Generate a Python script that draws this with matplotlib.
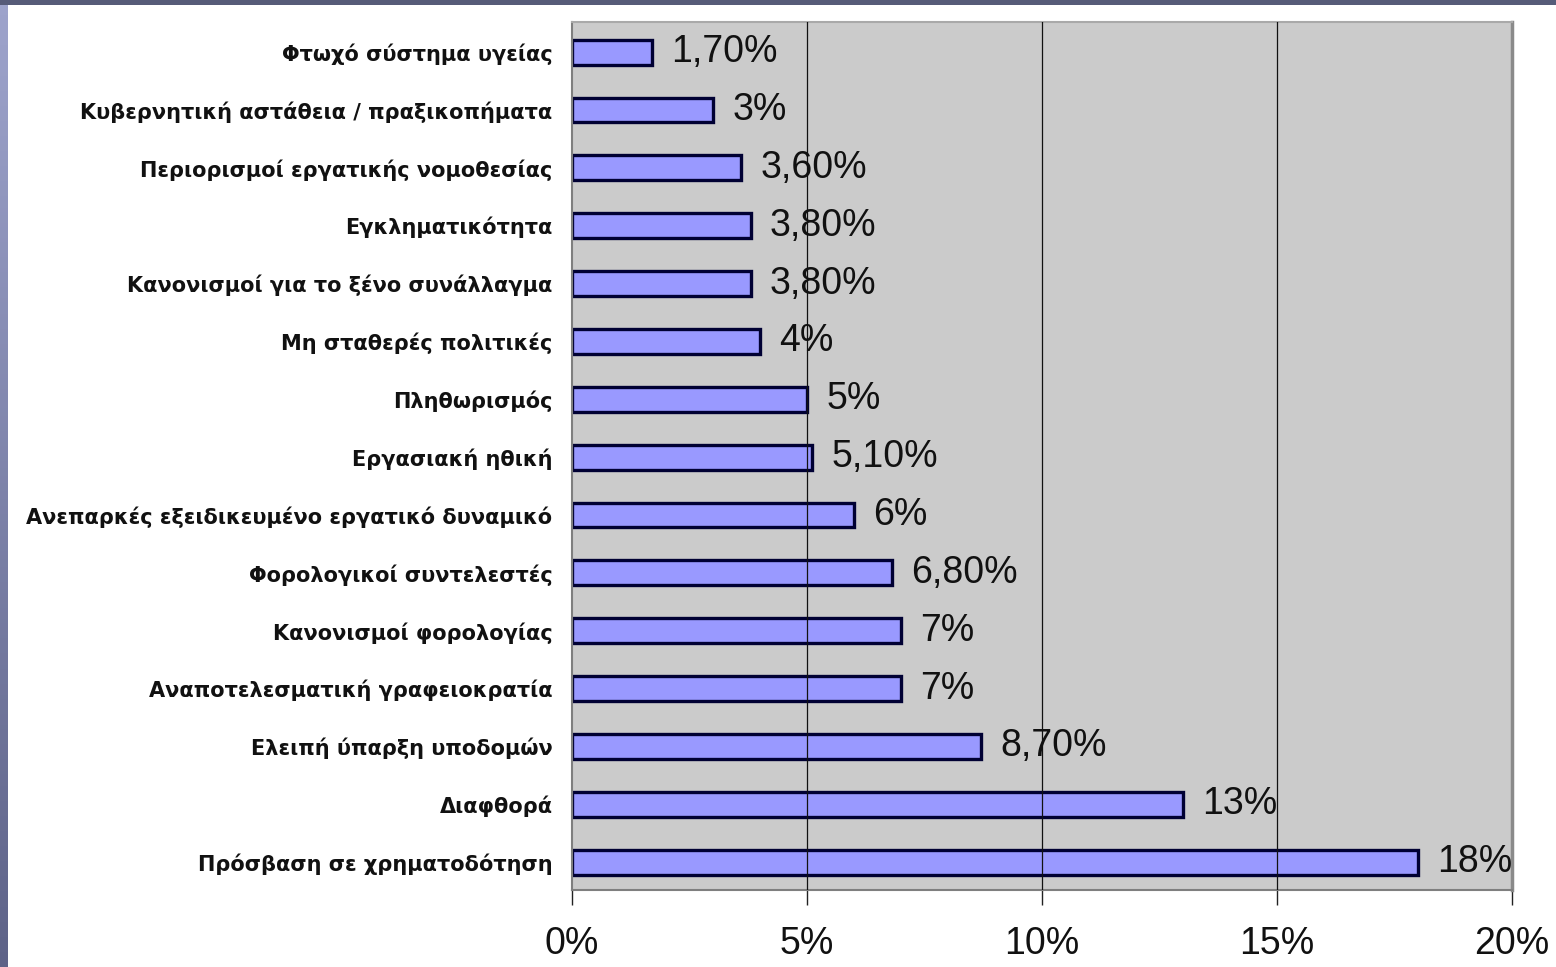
import matplotlib.pyplot as plt
import numpy as np

categories = ["Φτωχό σύστημα υγείας",
              "Κυβερνητική αστάθεια / πραξικοπήματα",
              "Περιορισμοί εργατικής νομοθεσίας",
              "Εγκληματικότητα",
              "Κανονισμοί για το ξένο συνάλλαγμα",
              "Μη σταθερές πολιτικές",
              "Πληθωρισμός",
              "Εργασιακή ηθική",
              "Ανεπαρκές εξειδικευμένο εργατικό δυναμικό",
              "Φορολογικοί συντελεστές",
              "Κανονισμοί φορολογίας",
              "Αναποτελεσματική γραφειοκρατία",
              "Ελειπή ύπαρξη υποδομών",
              "Διαφθορά",
              "Πρόσβαση σε χρηματοδότηση"]
values = [1.7, 3, 3.6, 3.8, 3.8, 4, 5, 5.1, 6, 6.8, 7, 7, 8.7, 13, 18]
value_labels = ["1,70%", "3%", "3,60%", "3,80%", "3,80%", "4%", "5%", "5,10%",
                "6%", "6,80%", "7%", "7%", "8,70%", "13%", "18%"]
xticks = [0, 5, 10, 15, 20]
xtick_labels = ["0%", "5%", "10%", "15%", "20%"]

fig = plt.figure(figsize=(15.56, 9.67), dpi=100)
fig.patch.set_facecolor("white")

# slide border: gradient strip on the left, dark strip on top
strip = fig.add_axes([0, 0, 8/1556, 1])
grad = np.linspace(0, 1, 256).reshape(-1, 1)
strip.imshow(grad, aspect="auto", cmap=plt.matplotlib.colors.LinearSegmentedColormap.from_list(
    "s", ["#9ea4cc", "#5e6388"]), origin="upper")
strip.axis("off")
top = fig.add_axes([0, 1 - 5/967, 1, 5/967])
top.set_facecolor("#565b78")
top.set_xticks([]); top.set_yticks([])
for s in top.spines.values():
    s.set_visible(False)

ax = fig.add_axes([572/1556, 1 - 890/967, 940/1556, 868/967])
ax.set_facecolor("#cbcbcb")

y = np.arange(len(categories))
bars = ax.barh(y, values, height=0.43, color="#9999ff", edgecolor="#000033",
               linewidth=2.4, zorder=2)
ax.bar_label(bars, labels=value_labels, padding=14, fontsize=27,
             family="Liberation Sans", color="#111111", zorder=3)

ax.set_xlim(0, 20)
ax.set_ylim(14.48, -0.52)
ax.set_xticks(xticks)
ax.set_xticklabels(xtick_labels, fontsize=27, family="Liberation Sans", color="#111111")
ax.set_yticks(y)
ax.set_yticklabels(categories, fontsize=15, fontweight="bold", family="DejaVu Sans",
                   color="#111111")
ax.tick_params(axis="y", length=0, pad=14)
ax.tick_params(axis="x", direction="out", length=11, width=1, pad=15, color="#222222")

for xv in xticks[1:-1]:
    ax.axvline(xv, color="#111111", linewidth=0.9, zorder=4)

for side in ["left", "bottom"]:
    ax.spines[side].set_color("#7f7f7f")
    ax.spines[side].set_linewidth(1.5)
ax.spines["right"].set_color("#8a8a8a")
ax.spines["right"].set_linewidth(2.5)
ax.spines["top"].set_color("#a9a9a9")
ax.spines["top"].set_linewidth(1.5)

fig.savefig("out.png", dpi=100)
